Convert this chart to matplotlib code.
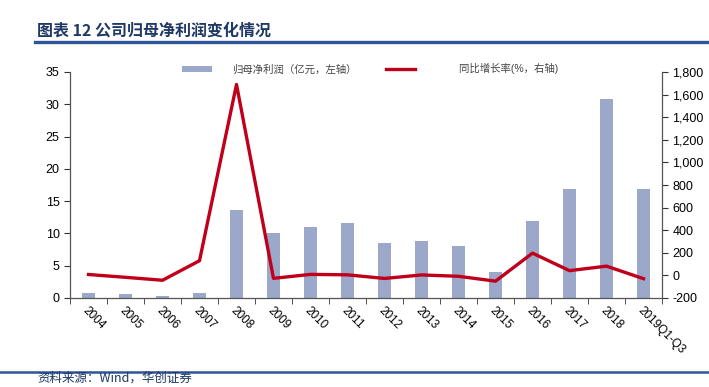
import matplotlib
matplotlib.use("Agg")
import matplotlib.pyplot as plt
import numpy as np

plt.rcParams['font.family'] = ['Liberation Sans', 'Noto Sans CJK SC', 'DejaVu Sans']

categories = ["2004", "2005", "2006", "2007", "2008", "2009", "2010", "2011",
              "2012", "2013", "2014", "2015", "2016", "2017", "2018", "2019Q1-Q3"]
profit = [0.8, 0.6, 0.35, 0.8, 13.7, 10.1, 11.0, 11.6,
          8.5, 8.8, 8.1, 4.0, 11.9, 16.9, 30.8, 16.9]
growth = [8, -17, -43, 130, 1690, -26, 9, 5,
          -27, 4, -8, -51, 197, 42, 82, -29]

BAR_COLOR = "#9ba8c9"
LINE_COLOR = "#c0001a"
BLUE = "#2e5597"

fig = plt.figure(figsize=(7.09, 3.87), dpi=100)
ax = fig.add_axes([70 / 709, 1 - 298 / 387, 592 / 709, 226 / 387])
ax2 = ax.twinx()

x = np.arange(len(categories))
bars = ax.bar(x, profit, width=0.33, color=BAR_COLOR, zorder=2)
line, = ax2.plot(x, growth, color=LINE_COLOR, lw=2.4, zorder=3)

ax.set_xlim(-0.5, len(categories) - 0.5)
ax.set_ylim(0, 35)
ax.set_yticks(range(0, 36, 5))
ax2.set_ylim(-200, 1800)
ax2.set_yticks(range(-200, 1801, 200))
ax2.set_yticklabels([f"{v:,}" for v in range(-200, 1801, 200)])

ax.set_xticks(x)
ax.set_xticklabels(categories, rotation=-45, ha='left', va='top',
                   rotation_mode='anchor', fontsize=8.5)
ax.tick_params(axis='x', length=0, pad=5)
ax.set_xticks(np.arange(-0.5, len(categories), 1), minor=True)
ax.tick_params(axis='x', which='minor', length=4, direction='out', color='#333333')
ax.tick_params(axis='y', labelsize=9, length=4, color='#333333')
ax2.tick_params(axis='y', labelsize=9, length=4, color='#333333')

for a in (ax, ax2):
    a.spines['top'].set_visible(False)
    for s in ('left', 'right', 'bottom'):
        a.spines[s].set_color('#555555')
        a.spines[s].set_linewidth(0.9)
ax.spines['right'].set_visible(False)
ax2.spines['left'].set_visible(False)
ax2.spines['bottom'].set_visible(False)

ax.legend([bars, line], ["归母净利润（亿元，左轴）", "        同比增长率(%，右轴)"],
          loc='upper left', bbox_to_anchor=(103 / 592, 1.08), ncol=2,
          frameon=False, fontsize=7.5, handlelength=2.8, handleheight=0.55,
          columnspacing=2.8, handletextpad=2.0, labelcolor='#444444')

fig.text(37 / 709, 1 - 31 / 387, "图表 12 公司归母净利润变化情况",
         fontsize=11.5, fontweight='bold', color='#1f3864',
         family=['Noto Sans CJK SC'], va='center', ha='left')
fig.add_artist(plt.Line2D([35 / 709, 1.0], [1 - 42 / 387] * 2,
                          color=BLUE, lw=2.4, transform=fig.transFigure))
fig.add_artist(plt.Line2D([0, 1.0], [1 - 372 / 387] * 2,
                          color=BLUE, lw=1.8, transform=fig.transFigure))
fig.text(37 / 709, 2 / 387, "资料来源：Wind，华创证券", fontsize=9,
         style='italic', color='#1f3864', family=['Noto Sans CJK SC'],
         va='bottom', ha='left')

fig.savefig("out.png", dpi=100)
